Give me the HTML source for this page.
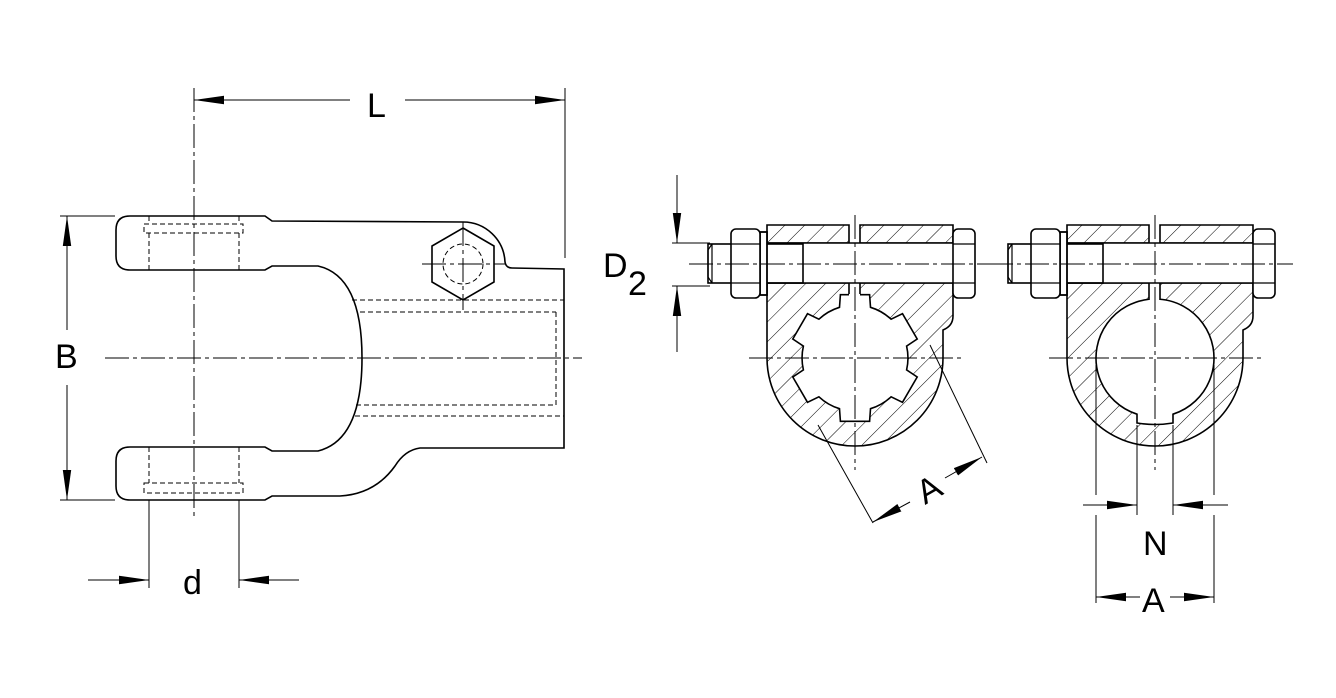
<!DOCTYPE html>
<html><head><meta charset="utf-8"><style>
html,body{margin:0;padding:0;background:#fff}
svg{display:block}
text{font-family:"Liberation Sans",sans-serif;fill:#000}
</style></head><body>
<svg id="s" width="1336" height="698" viewBox="0 0 1336 698" xmlns="http://www.w3.org/2000/svg">
<defs>
<pattern id="h" width="14" height="14" patternUnits="userSpaceOnUse" patternTransform="rotate(45)">
<line x1="0" y1="0" x2="0" y2="14" stroke="#000" stroke-width="1"/>
</pattern>
<marker id="ar" viewBox="0 0 30 10" refX="30" refY="5" markerWidth="30" markerHeight="10" markerUnits="userSpaceOnUse" orient="auto-start-reverse">
<path d="M0,0.8 L30,5 L0,9.2 Z" fill="#000"/>
</marker>
</defs>
<g fill="none" stroke="#000" stroke-width="1.6">
<path d="M130,216 L265,216 L272,221 L463,222 A42,42 0 0 1 505,262 Q506,268 512,268 L564,269 L564,448 L420,448 Q405,450 395,466 Q375,494 340,496 L272,496 L265,500 L130,500 Q116,500 116,486 L116,461 Q116,447 130,447 L265,447 L272,451 L318,451 Q362,440 362,358 Q362,276 318,266 L272,266 L265,270 L130,270 Q116,270 116,256 L116,230 Q116,216 130,216 Z"/>
<polygon points="463,228 494,246 494,282 463,300 432,282 432,246"/>
</g>
<g fill="none" stroke="#000" stroke-width="1" stroke-dasharray="5,3">
<circle cx="463" cy="264" r="20"/>
<path d="M352,300 L564,300 M360,312 L556,312 M356,405 L556,405 M355,416 L564,416 M556,312 L556,405"/>
<path d="M144,224 L243,224 L243,233 L144,233 Z M149,216 L149,224 M239,216 L239,224 M149,233 L149,270 M239,233 L239,270"/>
<path d="M144,483 L243,483 L243,493 L144,493 Z M149,447 L149,483 M239,447 L239,483"/>
</g>
<g fill="none" stroke="#000" stroke-width="1" stroke-dasharray="24,4,4,4">
<path d="M105,358 L582,358 M194,88 L194,520 M422,264 L506,264 M463,222 L463,310"/>
</g>
<g stroke="#000" stroke-width="1" fill="none">
<path d="M565,88 L565,258 M60,216 L115,216 M60,500 L115,500 M149,500 L149,588 M239,500 L239,588"/>
<path d="M350,100 L194,100" marker-end="url(#ar)"/>
<path d="M405,100 L565,100" marker-end="url(#ar)"/>
<path d="M67,330 L67,216" marker-end="url(#ar)"/>
<path d="M67,385 L67,500" marker-end="url(#ar)"/>
<path d="M88,580 L149,580" marker-end="url(#ar)"/>
<path d="M299,580 L239,580" marker-end="url(#ar)"/>
</g>
<text x="367" y="117" font-size="34">L</text>
<text x="55" y="368" font-size="34">B</text>
<text x="183" y="594" font-size="34">d</text>

<g id="clamps"></g>

<g stroke="#000" stroke-width="1" fill="none">
<path d="M672,243 L710,243 M672,286 L710,286"/>
<path d="M677,175 L677,243" marker-end="url(#ar)"/>
<path d="M677,352 L677,286" marker-end="url(#ar)"/>
</g>
<text x="603" y="277" font-size="34">D</text>
<text x="628" y="295" font-size="34">2</text>
<g stroke="#000" stroke-width="1" fill="none">
<path d="M818,425 L873,523 M930,345 L987,463"/>
<path d="M910,502 L873,522" marker-end="url(#ar)"/>
<path d="M945,478 L982,457" marker-end="url(#ar)"/>
</g>
<text x="0" y="0" font-size="34" transform="translate(925,505) rotate(-30)">A</text>
<g stroke="#000" stroke-width="1" fill="none">
<path d="M1096,365 L1096,495 M1096,515 L1096,603 M1137,425 L1137,515 M1173,425 L1173,515 M1214,365 L1214,495 M1214,515 L1214,603"/>
<path d="M1083,505 L1137,505" marker-end="url(#ar)"/>
<path d="M1228,505 L1173,505" marker-end="url(#ar)"/>
<path d="M1140,597 L1096,597" marker-end="url(#ar)"/>
<path d="M1170,597 L1214,597" marker-end="url(#ar)"/>
</g>
<text x="1143" y="555" font-size="34">N</text>
<text x="1142" y="612" font-size="34">A</text>
</svg>
<script>
function clamp(ox, spline){
  var cx=ox+88, cy=358, L=ox, R=ox+186;
  var body="M"+L+",225 L"+(cx-6)+",225 L"+(cx-6)+",243 L"+L+",243 Z M"+(cx+5)+",225 L"+R+",225 L"+R+",243 L"+(cx+5)+",243 Z "+
    "M"+L+",283 L"+R+",283 L"+R+",316 Q"+R+",326 "+(R-10)+",330 L"+(R-10)+","+cy+" A88,88 0 0 1 "+L+","+cy+" Z";
  var hole="";
  if(spline){
    var pts=[],d2r=Math.PI/180;
    for(var k=0;k<6;k++){
      var th=90+60*k;
      var a=[[th-60+17,53],[th-17,53],[th-13,65],[th+13,65],[th+17,53]];
      a.forEach(function(p){pts.push([cx+p[1]*Math.cos(p[0]*d2r), cy+p[1]*Math.sin(p[0]*d2r)]);});
    }
    hole="M"+pts[0][0].toFixed(1)+","+pts[0][1].toFixed(1);
    for(var i=1;i<pts.length;i++){
      var p=pts[i];
      if(i%5==1) hole+=" A53,53 0 0 1 "+p[0].toFixed(1)+","+p[1].toFixed(1);
      else hole+=" L"+p[0].toFixed(1)+","+p[1].toFixed(1);
    }
    hole+=" Z";
  } else {
    var r=59, kx=18, ky=Math.sqrt(r*r-kx*kx);
    hole="M"+(cx+kx)+","+(cy+ky)+" A59,59 0 1 0 "+(cx-kx)+","+(cy+ky)+" L"+(cx-kx)+",423 Q"+cx+",426 "+(cx+kx)+",423 Z";
  }
  var g='<path d="'+body+'" fill="url(#h)" stroke="#000" stroke-width="1.6"/>';
  g+='<path d="'+hole+'" fill="#fff" stroke="#000" stroke-width="1.6"/>';
  var sb = spline?296:302;
  g+='<rect x="'+(cx-6)+'" y="282" width="11" height="'+(sb-282+4)+'" fill="#fff"/>';
  g+='<path d="M'+(cx-6)+',283 L'+(cx-6)+','+(sb-2)+' M'+(cx+5)+',283 L'+(cx+5)+','+(sb-2)+'" stroke="#000" stroke-width="1.6"/>';
  g+='<rect x="'+L+'" y="243" width="'+(R-L)+'" height="40" fill="#fff"/>';
  g+='<path d="M'+L+',243 L'+R+',243 M'+L+',283 L'+R+',283" stroke="#000" stroke-width="1.6"/>';
  g+='<rect x="'+(L-59)+'" y="244" width="95" height="39" fill="none" stroke="#000" stroke-width="1.6"/>';
  g+='<path d="M'+(L-55)+',244 L'+(L-59)+',250 L'+(L-59)+',277 L'+(L-55)+',283 M'+(L-55)+',244 L'+(L-55)+',283" fill="none" stroke="#000" stroke-width="1.2"/>';
  g+='<rect x="'+(L-7)+'" y="232" width="7" height="63" fill="#fff" stroke="#000" stroke-width="1.8"/>';
  g+='<rect x="'+(L-36)+'" y="229" width="29" height="69" rx="5" fill="#fff" stroke="#000" stroke-width="1.6"/>';
  g+='<path d="M'+(L-36)+',244 L'+(L-7)+',244 M'+(L-36)+',283 L'+(L-7)+',283" stroke="#000" stroke-width="1.2"/>';
  g+='<rect x="'+R+'" y="229" width="22" height="69" rx="5" fill="#fff" stroke="#000" stroke-width="1.6"/>';
  g+='<path d="M'+R+',244 L'+(R+22)+',244 M'+R+',283 L'+(R+22)+',283" stroke="#000" stroke-width="1.2"/>';
  g+='<path d="M'+(L-78)+',264 L'+(R+40)+',264 M'+(L-18)+','+cy+' L'+(R+8)+','+cy+' M'+cx+',215 L'+cx+',470" stroke="#000" stroke-width="1" stroke-dasharray="24,4,4,4" fill="none"/>';
  return g;
}
document.getElementById('clamps').innerHTML=clamp(767,true)+clamp(1067,false);
</script>
</body></html>
